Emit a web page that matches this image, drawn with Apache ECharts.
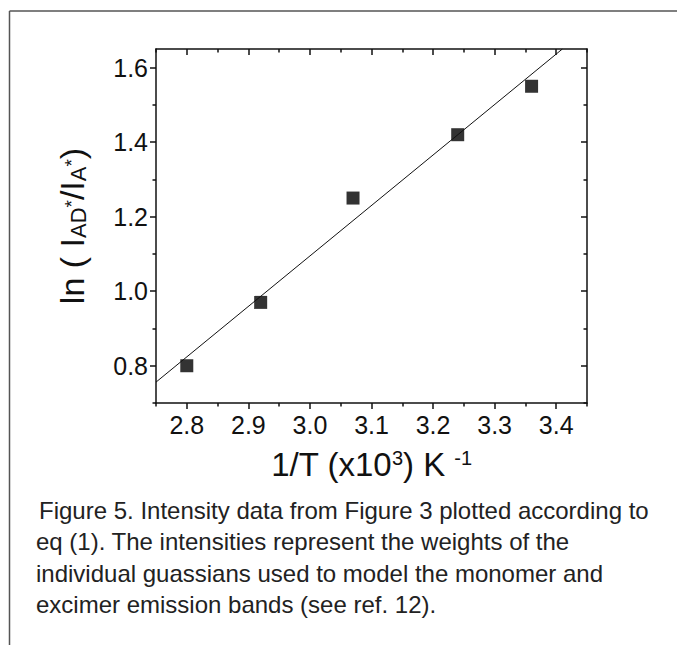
<!DOCTYPE html>
<html lang="en">
<head>
    <meta charset="UTF-8">
    <title>Figure 5</title>
    <script src="https://cdn.jsdelivr.net/npm/echarts@6/dist/echarts.min.js"></script>
    <style>
        html, body { margin: 0; padding: 0; background: #fff; }
        #chart { width: 677px; height: 645px; }
    </style>
</head>
<body>
<div id="chart"></div>
<script type="text/javascript">
    // data
    var invT = [2.80, 2.92, 3.07, 3.24, 3.36];
    var lnRatio = [0.80, 0.97, 1.25, 1.42, 1.55];
    // least squares line, end points as drawn
    var fitLine = [[2.75, 0.756], [3.41, 1.65]];

    var xMajor = [2.8, 2.9, 3.0, 3.1, 3.2, 3.3, 3.4];
    var xMinor = [2.75, 2.85, 2.95, 3.05, 3.15, 3.25, 3.35, 3.45];
    var yMajor = [0.8, 1.0, 1.2, 1.4, 1.6];
    var yMinor = [0.7, 0.9, 1.1, 1.3, 1.5];

    var caption = [
        'Figure 5. Intensity data from Figure 3 plotted according to',
        'eq (1). The intensities represent the weights of the',
        'individual guassians used to model the monomer and',
        'excimer emission bands (see ref. 12).'
    ];

    var font = 'Liberation Sans, Arial, sans-serif';
    var ink = '#111';

    var points = invT.map(function (x, i) { return [x, lnRatio[i]]; });

    // one axis for the labelled side, one for its minor ticks, same for the mirror side
    function xAxisDef(pos, ticks, len, inside, labels, line) {
        return {
            type: 'value', min: 2.75, max: 3.45, position: pos,
            axisLine: { show: line, onZero: false, lineStyle: { color: ink, width: 1.5 } },
            axisTick: { show: true, inside: inside, length: len, customValues: ticks,
                lineStyle: { color: ink, width: 1.5 } },
            axisLabel: labels ? {
                customValues: xMajor, fontSize: 25, color: ink, fontFamily: font, margin: 9,
                formatter: function (v) { return v.toFixed(1); }
            } : { show: false },
            splitLine: { show: false }
        };
    }
    function yAxisDef(pos, ticks, len, inside, labels, line) {
        return {
            type: 'value', min: 0.7, max: 1.65, position: pos,
            axisLine: { show: line, onZero: false, lineStyle: { color: ink, width: 1.5 } },
            axisTick: { show: true, inside: inside, length: len, customValues: ticks,
                lineStyle: { color: ink, width: 1.5 } },
            axisLabel: labels ? {
                customValues: yMajor, fontSize: 25, color: ink, fontFamily: font, margin: 8,
                formatter: function (v) { return v.toFixed(1); }
            } : { show: false },
            splitLine: { show: false }
        };
    }

    var xMain = xAxisDef('bottom', xMajor, 6, false, true, true);
    xMain.name = '1/T (x10{sup|3}) K {sup|-1}';
    xMain.nameLocation = 'middle';
    xMain.nameGap = 45;
    xMain.nameTextStyle = {
        fontSize: 33, color: ink, fontFamily: font,
        rich: { sup: { fontSize: 20, color: ink, fontFamily: font, verticalAlign: 'top' } }
    };

    var yMain = yAxisDef('left', yMajor, 6, false, true, true);
    yMain.name = 'ln ( I{sub|AD}{star|*}/I{sub|A}{star|*})';
    yMain.nameLocation = 'middle';
    yMain.nameGap = 67;
    yMain.nameTextStyle = {
        fontSize: 34, color: ink, fontFamily: font,
        rich: {
            sub: { fontSize: 22, color: ink, fontFamily: font, verticalAlign: 'bottom', lineHeight: 22 },
            star: { fontSize: 19, color: ink, fontFamily: font, verticalAlign: 'bottom', lineHeight: 19, padding: [0, 0, 8, 0] }
        }
    };

    var chart = echarts.init(document.getElementById('chart'), null, { renderer: 'svg' });
    var option = {
        backgroundColor: '#fff',
        animation: false,
        grid: { left: 156, top: 49, right: 90, bottom: 242, containLabel: false },
        xAxis: [
            xMain,
            xAxisDef('bottom', xMinor, 3.5, false, false, false),
            xAxisDef('top', xMajor, 6, true, false, true),
            xAxisDef('top', xMinor, 3.5, true, false, false)
        ],
        yAxis: [
            yMain,
            yAxisDef('left', yMinor, 3.5, false, false, false),
            yAxisDef('right', yMajor, 6, true, false, true),
            yAxisDef('right', yMinor, 3.5, true, false, false)
        ],
        series: [
            {
                name: 'fit',
                type: 'line',
                xAxisIndex: 0, yAxisIndex: 0,
                data: fitLine,
                symbol: 'none',
                lineStyle: { color: ink, width: 1 },
                silent: true
            },
            {
                name: 'data',
                type: 'scatter',
                xAxisIndex: 0, yAxisIndex: 0,
                data: points,
                symbol: 'rect',
                symbolSize: 13,
                itemStyle: { color: '#000' }
            }
        ],
        graphic: [
            // page frame, top and left edges
            { type: 'line', shape: { x1: 9.5, y1: 11, x2: 677, y2: 11 }, style: { stroke: '#555', lineWidth: 1.5 } },
            { type: 'line', shape: { x1: 9.5, y1: 11, x2: 9.5, y2: 645 }, style: { stroke: '#555', lineWidth: 1.5 } }
        ].concat(caption.map(function (t, i) {
            return {
                type: 'text',
                left: i === 0 ? 39 : 36,
                top: 498 + i * 31.5,
                style: { text: t, fontSize: 24, fontFamily: font, fill: '#222' }
            };
        }))
    };
    chart.setOption(option);
</script>
</body>
</html>
